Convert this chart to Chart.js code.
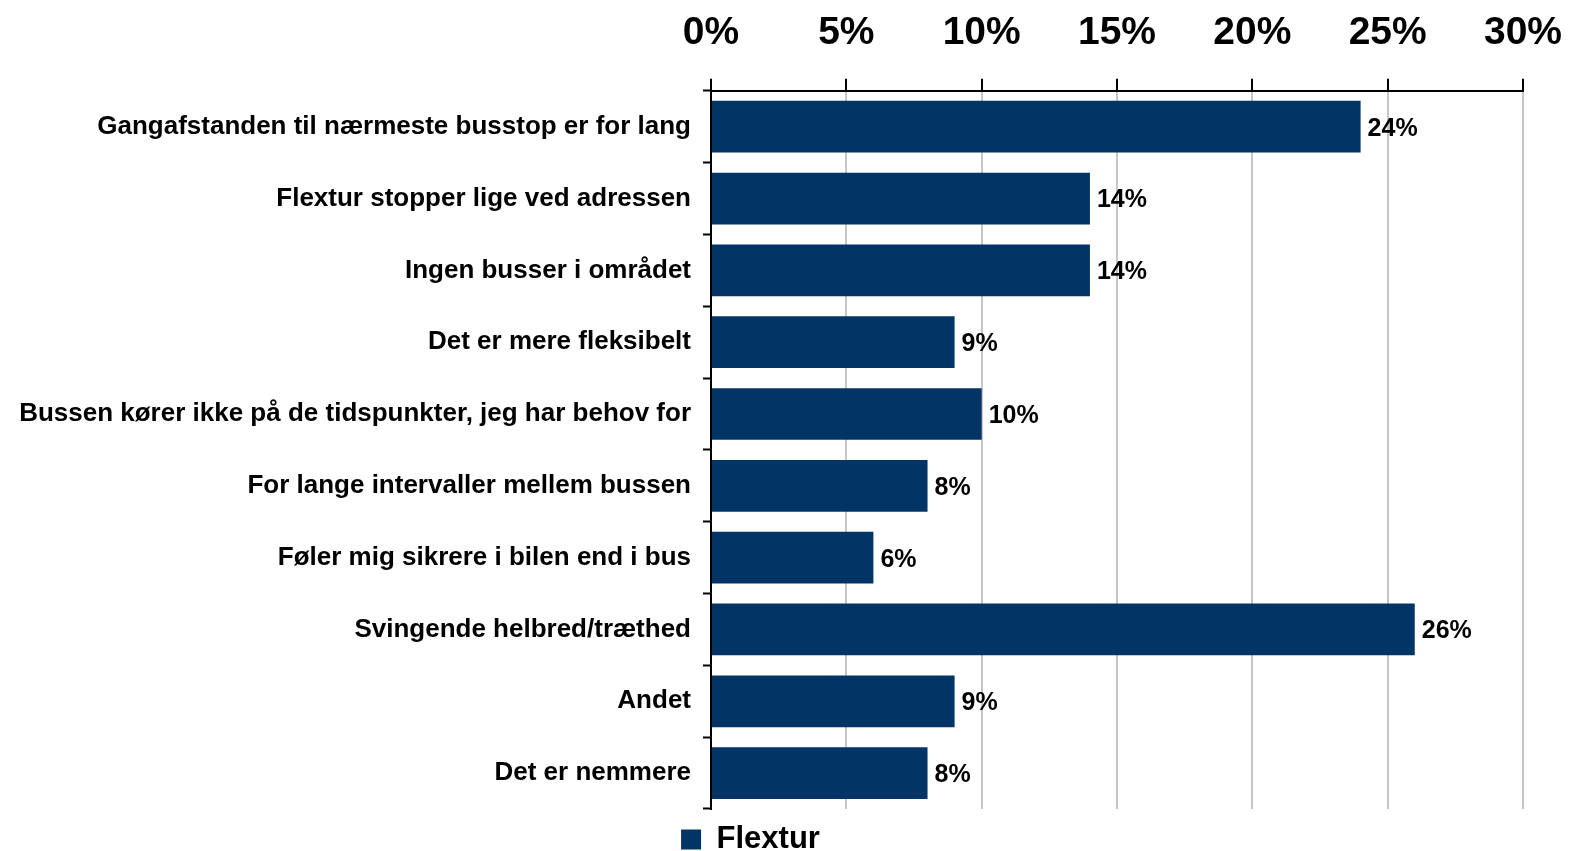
<!DOCTYPE html>
<html>
<head>
<meta charset="utf-8">
<script src="https://cdn.jsdelivr.net/npm/chart.js@4/dist/chart.umd.min.js"></script>
<style>
  html, body { margin: 0; padding: 0; background: #fff; }
  canvas { display: block; }
</style>
</head>
<body>
<canvas id="grafico" width="1570" height="851"></canvas>
<script>
// data
const kategorier = [
  "Gangafstanden til nærmeste busstop er for lang",
  "Flextur stopper lige ved adressen",
  "Ingen busser i området",
  "Det er mere fleksibelt",
  "Bussen kører ikke på de tidspunkter, jeg har behov for",
  "For lange intervaller mellem bussen",
  "Føler mig sikrere i bilen end i bus",
  "Svingende helbred/træthed",
  "Andet",
  "Det er nemmere"
];
const flextur = [24, 14, 14, 9, 10, 8, 6, 26, 9, 8];
const serieNavn = "Flextur";
const akseMax = 30;
const akseStep = 5;

// labels at the end of each bar
const barLabels = {
  id: "barLabels",
  afterDatasetsDraw(chart) {
    const ctx = chart.ctx;
    const meta = chart.getDatasetMeta(0);
    ctx.save();
    ctx.font = "bold 25px 'Liberation Sans', Arial, sans-serif";
    ctx.fillStyle = "#000";
    ctx.textBaseline = "middle";
    ctx.textAlign = "left";
    meta.data.forEach((bar, i) => {
      ctx.fillText(flextur[i] + "%", bar.x + 7, bar.y + 2);
    });
    ctx.restore();
  }
};

// legend sits a bit left and lower in the original
const legendShift = {
  id: "legendShift",
  afterLayout(chart) {
    const lg = chart.legend;
    if (lg) {
      lg.left -= 11;
      lg.right -= 11;
      lg.top += 9;
      lg.bottom += 9;
    }
  }
};

new Chart(document.getElementById("grafico").getContext("2d"), {
  type: "bar",
  data: {
    labels: kategorier,
    datasets: [{
      label: serieNavn,
      data: flextur,
      backgroundColor: "#023466",
      barPercentage: 0.72,
      categoryPercentage: 1
    }]
  },
  plugins: [barLabels, legendShift],
  options: {
    indexAxis: "y",
    responsive: false,
    animation: false,
    layout: { padding: { top: -12, right: 47, bottom: -5, left: 0 } },
    plugins: {
      tooltip: { enabled: false },
      legend: {
        position: "bottom",
        labels: {
          color: "#000",
          boxWidth: 20,
          boxHeight: 20,
          padding: 6,
          font: { family: "'Liberation Sans', Arial, sans-serif", size: 31, weight: "bold" }
        }
      }
    },
    scales: {
      x: {
        position: "top",
        min: 0,
        max: akseMax,
        ticks: {
          stepSize: akseStep,
          color: "#000",
          padding: 22,
          font: { family: "'Liberation Sans', Arial, sans-serif", size: 39, weight: "bold" },
          callback: v => v + "%"
        },
        grid: {
          color: "#c6c6c6",
          lineWidth: 2,
          tickColor: "#000",
          tickLength: 12,
          tickWidth: 2
        },
        border: { color: "#000", width: 2 },
        afterFit: s => { s.paddingLeft = 0; s.paddingRight = 0; }
      },
      y: {
        ticks: {
          color: "#000",
          padding: 12,
          font: { family: "'Liberation Sans', Arial, sans-serif", size: 26, weight: "bold" }
        },
        grid: {
          drawOnChartArea: false,
          tickColor: "#000",
          tickLength: 8,
          tickWidth: 2
        },
        border: { color: "#000", width: 2 },
        afterFit: s => { s.width = 711; }
      }
    }
  }
});
</script>
</body>
</html>
